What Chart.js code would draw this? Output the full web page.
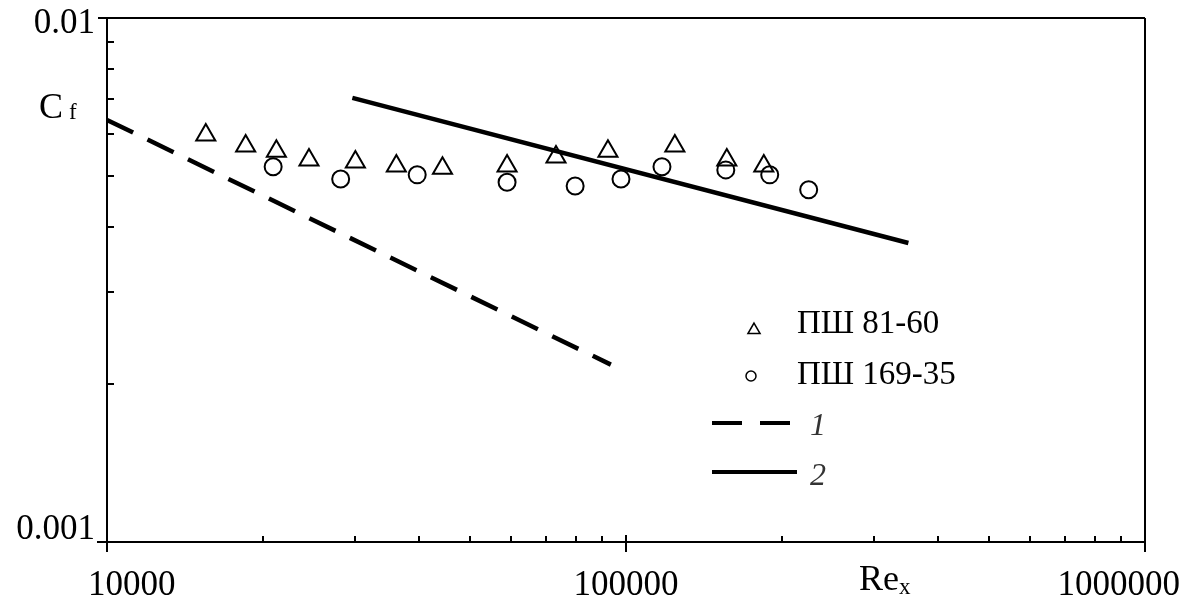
<!DOCTYPE html>
<html>
<head>
<meta charset="utf-8">
<script src="https://cdn.jsdelivr.net/npm/chart.js@4.4.1/dist/chart.umd.min.js"></script>
<style>
  html, body { margin: 0; padding: 0; background: #fff; }
  #wrap { width: 1185px; height: 601px; position: relative; }
</style>
</head>
<body>
<div id="wrap"><canvas id="cfChart"></canvas></div>
<script>
const re81 = [15500, 18500, 21200, 24500, 30100, 36100, 44300, 59000, 73300, 92300, 124200, 156400, 184300];
const cf81 = [0.00598, 0.00570, 0.00557, 0.00536, 0.00531, 0.00522, 0.00517, 0.00522, 0.00543, 0.00557, 0.00570, 0.00536, 0.00522];

const re169 = [20900, 28200, 39600, 59000, 79800, 97800, 117300, 155700, 189200, 224900];
const cf169 = [0.00520, 0.00493, 0.00502, 0.00486, 0.00478, 0.00493, 0.00520, 0.00513, 0.00502, 0.00470];

// curves 1 and 2 (end points)
const re1 = [10000, 93500];
const cf1 = [0.00639, 0.00218];
const re2 = [29700, 350000];
const cf2 = [0.00704, 0.00372];

// axis ticks
const xMajor = [10000, 100000, 1000000];
const xLabels = ['10000', '100000', '1000000'];
const yMajor = [0.01, 0.001];
const yLabels = ['0.01', '0.001'];

const legendNames = ['ПШ 81-60', 'ПШ 169-35', '1', '2'];

const toPoints = (xs, ys) => xs.map((x, i) => ({ x: x, y: ys[i] }));
const SERIF = "'Liberation Serif', 'Times New Roman', serif";

const axesPlugin = {
  id: 'axesPlugin',
  afterDraw(chart) {
    const { ctx, chartArea: a } = chart;
    const xs = chart.scales.x, ys = chart.scales.y;
    ctx.save();
    ctx.strokeStyle = '#000';
    ctx.fillStyle = '#000';
    ctx.lineWidth = 2;
    ctx.lineCap = 'butt';

    // frame
    ctx.beginPath();
    ctx.moveTo(a.left - 9, a.top); ctx.lineTo(a.right, a.top);
    ctx.moveTo(a.left - 10, a.bottom); ctx.lineTo(a.right, a.bottom);
    ctx.moveTo(a.left, a.top); ctx.lineTo(a.left, a.bottom + 10);
    ctx.moveTo(a.right, a.top); ctx.lineTo(a.right, a.bottom + 10);
    ctx.stroke();

    // minor ticks, pointing inward
    ctx.beginPath();
    for (let d = 10000; d < 1000000; d *= 10) {
      for (let k = 2; k <= 9; k++) {
        const px = Math.round(xs.getPixelForValue(d * k));
        ctx.moveTo(px, a.bottom); ctx.lineTo(px, a.bottom - 6);
      }
    }
    for (let k = 2; k <= 9; k++) {
      const py = Math.round(ys.getPixelForValue(0.001 * k));
      ctx.moveTo(a.left, py); ctx.lineTo(a.left + 7, py);
    }
    // middle major tick crosses the axis
    const pm = Math.round(xs.getPixelForValue(xMajor[1]));
    ctx.moveTo(pm, a.bottom - 7); ctx.lineTo(pm, a.bottom + 10);
    ctx.stroke();

    // tick labels
    ctx.font = '35px ' + SERIF;
    ctx.textBaseline = 'alphabetic';
    ctx.textAlign = 'left';
    xMajor.forEach((v, i) => {
      const w = ctx.measureText(xLabels[i]).width;
      let cx = xs.getPixelForValue(v);
      cx = Math.max(88 + w / 2, Math.min(1180 - w / 2, cx));
      ctx.fillText(xLabels[i], cx - w / 2, a.bottom + 53);
    });
    ctx.textAlign = 'right';
    ctx.textBaseline = 'middle';
    yMajor.forEach((v, i) => {
      let cy = ys.getPixelForValue(v);
      cy = Math.max(a.top + 6, Math.min(a.bottom - 12, cy));
      ctx.fillText(yLabels[i], a.left - 12, cy);
    });

    // axis titles
    ctx.textAlign = 'left';
    ctx.textBaseline = 'alphabetic';
    ctx.font = '36px ' + SERIF;
    ctx.fillText('C', 39, 118);
    ctx.font = '23px ' + SERIF;
    ctx.fillText('f', 69, 119);
    ctx.font = '36px ' + SERIF;
    ctx.fillText('Re', 859, 590);
    ctx.font = '23px ' + SERIF;
    ctx.fillText('x', 899, 594);

    // legend
    ctx.fillStyle = 'rgba(0,0,0,0)';
    ctx.strokeStyle = '#000';
    ctx.lineWidth = 1.5;
    Chart.helpers.drawPoint(ctx, { pointStyle: 'triangle', radius: 7, borderWidth: 1.5 }, 754, 330);
    ctx.beginPath();
    ctx.arc(751, 376, 5, 0, Math.PI * 2);
    ctx.stroke();
    ctx.fillStyle = '#000';
    ctx.font = '33px ' + SERIF;
    ctx.fillText(legendNames[0], 797, 333);
    ctx.fillText(legendNames[1], 797, 384);

    ctx.lineWidth = 4;
    ctx.setLineDash([30, 18]);
    ctx.beginPath();
    ctx.moveTo(712, 423); ctx.lineTo(790, 423);
    ctx.stroke();
    ctx.setLineDash([]);
    ctx.beginPath();
    ctx.moveTo(712, 472); ctx.lineTo(797, 472);
    ctx.stroke();
    ctx.font = 'italic 32px ' + SERIF;
    ctx.fillStyle = '#333';
    ctx.fillText(legendNames[2], 810, 435);
    ctx.fillText(legendNames[3], 810, 485);
    ctx.restore();
  }
};

new Chart(document.getElementById('cfChart').getContext('2d'), {
  type: 'scatter',
  data: {
    datasets: [{
      label: legendNames[0],
      data: toPoints(re81, cf81),
      pointStyle: 'triangle',
      pointRadius: 11,
      borderColor: '#000',
      backgroundColor: 'rgba(0,0,0,0)',
      borderWidth: 2
    }, {
      label: legendNames[1],
      data: toPoints(re169, cf169),
      pointStyle: 'circle',
      pointRadius: 8.5,
      borderColor: '#000',
      backgroundColor: 'rgba(0,0,0,0)',
      borderWidth: 2
    }, {
      type: 'line',
      label: legendNames[2],
      data: toPoints(re1, cf1),
      showLine: true,
      pointRadius: 0,
      borderColor: '#000',
      borderWidth: 4.5,
      borderDash: [29, 16],
      borderCapStyle: 'butt',
      fill: false
    }, {
      type: 'line',
      label: legendNames[3],
      data: toPoints(re2, cf2),
      showLine: true,
      pointRadius: 0,
      borderColor: '#000',
      borderWidth: 4.5,
      borderCapStyle: 'butt',
      fill: false
    }]
  },
  options: {
    responsive: true,
    maintainAspectRatio: false,
    animation: false,
    layout: { padding: { left: 107, right: 40, top: 18, bottom: 59 } },
    plugins: { legend: { display: false }, tooltip: { enabled: false } },
    scales: {
      x: { type: 'logarithmic', min: 10000, max: 1000000, display: false },
      y: { type: 'logarithmic', min: 0.001, max: 0.01, display: false }
    }
  },
  plugins: [axesPlugin]
});
</script>
</body>
</html>
